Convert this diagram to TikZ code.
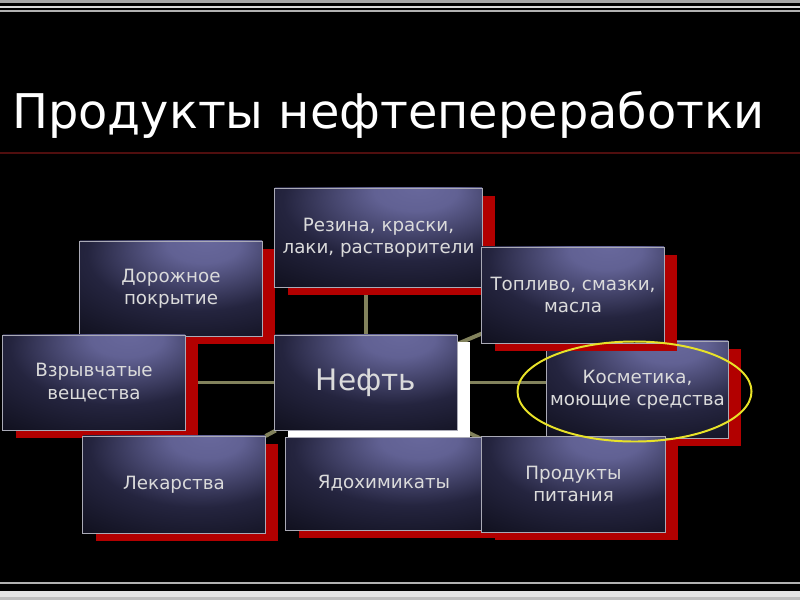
\documentclass[tikz,border=0pt]{standalone}
\usepackage{fontspec}
\setmainfont{DejaVu Sans}
\usepackage{tikz}
\usetikzlibrary{shadows}

\definecolor{boxhi}{RGB}{104,104,156}
\definecolor{boxmid}{RGB}{58,58,98}
\definecolor{boxlo}{RGB}{10,10,20}
\definecolor{shadowred}{RGB}{178,0,0}
\definecolor{linkcol}{RGB}{130,130,92}
\definecolor{framecol}{RGB}{170,170,182}
\definecolor{titleline}{RGB}{80,14,14}
\definecolor{marker}{RGB}{232,226,40}

%glow in the upper right part of every box
\pgfdeclareradialshading{boxglow}{\pgfpoint{10bp}{26bp}}{%
    color(0bp)=(boxhi); color(10bp)=(boxhi!85!boxmid); color(30bp)=(boxmid!55!boxlo);
    color(55bp)=(boxlo); color(100bp)=(boxlo)}

\pgfdeclarelayer{bg}
\pgfdeclarelayer{links}
\pgfsetlayers{bg,links,main}

\begin{document}
\begin{tikzpicture}
    [x=0.025cm, y=-0.025cm,
    heading/.style={text=white, font=\fontsize{34}{40}\selectfont, inner sep=0pt},
    prodbox/.style={draw=framecol, line width=0.7pt, shading=boxglow,
        text=white!86!black, align=center, inner sep=0pt,
        font=\fontsize{13}{16}\selectfont,
        drop shadow={shadow xshift=0.32cm, shadow yshift=-0.2cm, fill=shadowred, opacity=1}},
    mainbox/.style={prodbox, font=\fontsize{21}{24}\selectfont,
        drop shadow={shadow xshift=0.32cm, shadow yshift=-0.18cm, fill=white, opacity=1}},
    link/.style={linkcol, line width=2.8pt},
    marker ring/.style={marker, line width=1.4pt}]

%background and frame lines
\useasboundingbox (0,0) rectangle (800,600);
\begin{pgfonlayer}{bg}
\fill[black] (0,0) rectangle (800,600);
\fill[gray!70] (0,0) rectangle (800,3);
\draw[white!85!black, line width=1.2pt] (0,7) -- (800,7);
\draw[gray!60, line width=1pt] (0,11) -- (800,11);
\draw[titleline, line width=1.4pt] (0,153) -- (800,153);
\draw[gray!60, line width=1pt] (0,583) -- (800,583);
\fill[white!90!black] (0,591) rectangle (800,597);
\fill[gray!50] (0,597) rectangle (800,600);
\end{pgfonlayer}

%title
\node[heading, anchor=base west] (title) at (12,128) {Продукты нефтепереработки};

%boxes, back to front
\node[prodbox, minimum width=4.55cm, minimum height=2.375cm] (dorozh) at (171,288.5) {Дорожное\\покрытие};
\node[prodbox, minimum width=5.175cm, minimum height=2.475cm] (rezina) at (378.5,237.5) {Резина, краски,\\лаки, растворители};
\node[prodbox, minimum width=4.55cm, minimum height=2.375cm] (vzryv) at (94,382.5) {Взрывчатые\\вещества};
\node[mainbox, minimum width=4.55cm, minimum height=2.375cm] (neft) at (366,382.5) {Нефть};
\node[prodbox, minimum width=4.525cm, minimum height=2.425cm] (kosm) at (637.5,389.5) {Косметика,\\моющие средства};
\node[prodbox, minimum width=4.55cm, minimum height=2.4cm] (topl) at (573,295) {Топливо, смазки,\\масла};
\node[prodbox, minimum width=4.55cm, minimum height=2.425cm] (lekar) at (174,484.5) {Лекарства};
\node[prodbox, minimum width=4.9cm, minimum height=2.325cm] (yad) at (384,483.5) {Ядохимикаты};
\node[prodbox, minimum width=4.575cm, minimum height=2.4cm] (prod) at (573.5,484) {Продукты\\питания};

%links from the centre box
\begin{pgfonlayer}{links}
\draw[link] (neft) -- (neft |- rezina.south);
\draw[link] (neft) -- (vzryv);
\draw[link] (neft) -- (neft -| kosm.west);
\draw[link] (neft) -- (topl);
\draw[link] (neft) -- (lekar);
\draw[link] (neft) -- (prod);
\draw[link] (neft) -- (dorozh);
\draw[link] (neft) -- (yad);
\end{pgfonlayer}

%hand drawn ring round one box
\draw[marker ring] (kosm.center) ++(-3,2) ellipse [x radius=117, y radius=50];

\end{tikzpicture}
\end{document}
